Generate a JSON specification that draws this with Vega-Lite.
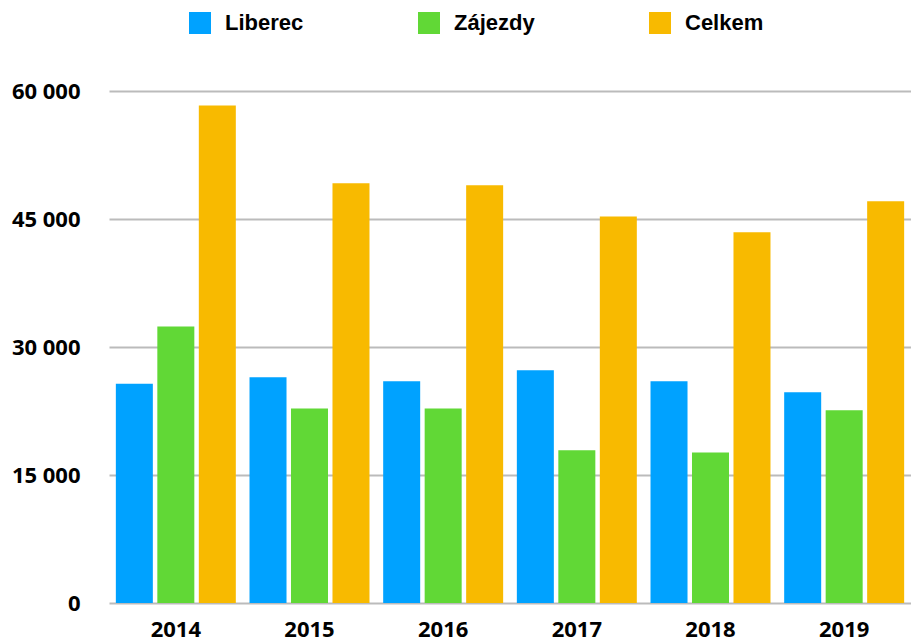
{
  "$schema": "https://vega.github.io/schema/vega-lite/v6.json",
  "width": 802,
  "height": 512,
  "autosize": {"type": "none"},
  "padding": {"left": 109, "top": 91, "right": 0, "bottom": 40},
  "background": "white",
  "config": {"view": {"stroke": null}},
  "data": {
    "values": [
      {"rok": "2014", "serie": "Liberec", "hodnota": 25700},
      {"rok": "2014", "serie": "Zájezdy", "hodnota": 32400},
      {"rok": "2014", "serie": "Celkem", "hodnota": 58300},
      {"rok": "2015", "serie": "Liberec", "hodnota": 26450},
      {"rok": "2015", "serie": "Zájezdy", "hodnota": 22800},
      {"rok": "2015", "serie": "Celkem", "hodnota": 49200},
      {"rok": "2016", "serie": "Liberec", "hodnota": 26000},
      {"rok": "2016", "serie": "Zájezdy", "hodnota": 22800},
      {"rok": "2016", "serie": "Celkem", "hodnota": 48950},
      {"rok": "2017", "serie": "Liberec", "hodnota": 27270},
      {"rok": "2017", "serie": "Zájezdy", "hodnota": 17900},
      {"rok": "2017", "serie": "Celkem", "hodnota": 45300},
      {"rok": "2018", "serie": "Liberec", "hodnota": 26000},
      {"rok": "2018", "serie": "Zájezdy", "hodnota": 17650},
      {"rok": "2018", "serie": "Celkem", "hodnota": 43450},
      {"rok": "2019", "serie": "Liberec", "hodnota": 24700},
      {"rok": "2019", "serie": "Zájezdy", "hodnota": 22600},
      {"rok": "2019", "serie": "Celkem", "hodnota": 47070}
    ]
  },
  "mark": {"type": "bar"},
  "encoding": {
    "x": {
      "field": "rok",
      "type": "nominal",
      "scale": {"paddingInner": 0, "paddingOuter": 0},
      "axis": {
        "title": null,
        "labelAngle": 0,
        "ticks": false,
        "domain": false,
        "labelFont": "Open Sans",
        "labelFontWeight": "bold",
        "labelFontSize": 22,
        "labelColor": "#000000",
        "labelPadding": 16
      }
    },
    "xOffset": {
      "field": "serie",
      "type": "nominal",
      "sort": ["Liberec", "Zájezdy", "Celkem"],
      "scale": {"paddingInner": 0.108, "paddingOuter": 0.165}
    },
    "y": {
      "field": "hodnota",
      "type": "quantitative",
      "scale": {"domain": [0, 60000], "nice": false},
      "axis": {
        "title": null,
        "values": [0, 15000, 30000, 45000, 60000],
        "labelExpr": "replace(format(datum.value, ','), ',', ' ')",
        "ticks": false,
        "domain": false,
        "grid": true,
        "gridColor": "#bbbbbb",
        "gridWidth": 2,
        "labelFont": "Open Sans",
        "labelFontWeight": "bold",
        "labelFontSize": 22,
        "labelColor": "#000000",
        "labelPadding": 29
      }
    },
    "color": {
      "field": "serie",
      "type": "nominal",
      "scale": {
        "domain": ["Liberec", "Zájezdy", "Celkem"],
        "range": ["#00A2FF", "#61D836", "#F8BA00"]
      },
      "legend": {
        "title": null,
        "orient": "none",
        "direction": "horizontal",
        "legendX": 80,
        "legendY": -79,
        "padding": 0,
        "symbolType": "square",
        "symbolSize": 484,
        "symbolStrokeWidth": 0,
        "symbolOpacity": 1,
        "labelFont": "Liberation Sans",
        "labelFontWeight": "bold",
        "labelFontSize": 22,
        "labelColor": "#000000",
        "labelOffset": 14,
        "columnPadding": 114
      }
    }
  }
}
